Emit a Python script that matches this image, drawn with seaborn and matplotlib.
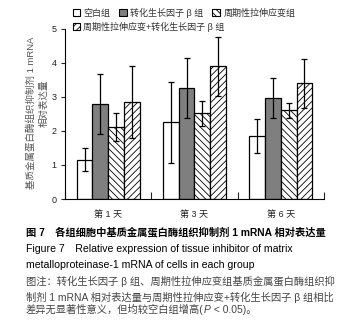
import numpy as np
import pandas as pd
import seaborn as sns
import matplotlib
matplotlib.use("Agg")
import matplotlib.pyplot as plt
from matplotlib.patches import Patch

days = ["第 1 天", "第 3 天", "第 6 天"]
groups = ["空白组", "转化生长因子 β 组", "周期性拉伸应变组", "周期性拉伸应变+转化生长因子 β 组"]
blank_mean = [1.15, 2.25, 1.85]
blank_sd = [0.34, 1.18, 0.50]
tgf_mean = [2.78, 3.25, 2.96]
tgf_sd = [0.88, 0.88, 0.58]
cyc_mean = [2.10, 2.51, 2.60]
cyc_sd = [0.41, 0.38, 0.22]
comb_mean = [2.84, 3.89, 3.40]
comb_sd = [1.05, 0.86, 0.72]
yticks = [0, 1, 2, 3, 4, 5]

means = [blank_mean, tgf_mean, cyc_mean, comb_mean]
sds = [blank_sd, tgf_sd, cyc_sd, comb_sd]
rows = []
for g, m, s in zip(groups, means, sds):
    for d, mv, sv in zip(days, m, s):
        rows.append({"day": d, "group": g, "mean": mv, "sd": sv})
df = pd.DataFrame(rows)

sns.set_style("ticks")
plt.rcParams['font.family'] = ['Liberation Sans', 'Noto Sans CJK SC']
plt.rcParams['hatch.linewidth'] = 0.6
plt.rcParams['axes.unicode_minus'] = False

facecolors = ["white", "#7f7f7f", "white", "white"]
hatches = [None, None, "\\\\\\\\\\", "/////"]

fig = plt.figure(figsize=(3.53, 3.23), dpi=100)
ax = fig.add_axes([0.1841, 0.3839, 0.7337, 0.5276])
sns.barplot(data=df, x="day", y="mean", hue="group", order=days, hue_order=groups,
            errorbar=None, width=0.73, palette=facecolors, edgecolor="black",
            linewidth=0.9, legend=False, ax=ax, saturation=1)

n = len(days)
for gi, g in enumerate(groups):
    for di in range(n):
        p = ax.patches[gi * n + di]
        p.set_facecolor(facecolors[gi])
        p.set_edgecolor("black")
        if hatches[gi]:
            p.set_hatch(hatches[gi])
        cx = p.get_x() + p.get_width() / 2
        ax.errorbar(cx, means[gi][di], yerr=sds[gi][di], color="black",
                    lw=0.9, capsize=2.2, capthick=0.9, zorder=5)

ax.set_ylim(0, 5)
ax.set_xlim(-0.5, 2.5)
ax.set_yticks(yticks)
ax.set_yticklabels([str(t) for t in yticks], fontsize=6.5, color="#222222")
ax.tick_params(axis="y", direction="out", length=3, width=0.8, pad=3)
ax.tick_params(axis="x", which="major", length=0, pad=8, labelsize=6.5, labelcolor="#222222")
ax.set_xticks([-0.5, 0.5, 1.5, 2.5], minor=True)
ax.tick_params(axis="x", which="minor", direction="in", length=5, width=0.8)
ax.set_xlabel("")
ax.set_ylabel("")
for s in ["top", "right"]:
    ax.spines[s].set_visible(False)
for s in ["left", "bottom"]:
    ax.spines[s].set_linewidth(0.8)
    ax.spines[s].set_color("black")

# y label (two lines)
fig.text(31 / 353, 1 - 113 / 323, "基质金属蛋白酶组织抑制剂 1 mRNA", rotation=90,
         ha="center", va="center", fontsize=6.8, color="#555555")
fig.text(44 / 353, 1 - 103 / 323, "相对表达量", rotation=90,
         ha="center", va="center", fontsize=6.8, color="#555555")

# legend
handles = [Patch(facecolor=facecolors[i], edgecolor="black", hatch=hatches[i], linewidth=0.8)
           for i in range(4)]
leg1 = fig.legend(handles[:3], groups[:3], loc="center left", bbox_to_anchor=(68 / 353, 1 - 13 / 323),
                  ncol=3, frameon=False, fontsize=6.5, handlelength=0.8, handleheight=0.8,
                  handletextpad=0.4, columnspacing=1.0, borderpad=0, labelcolor="#333333")
leg2 = fig.legend(handles[3:], groups[3:], loc="center left", bbox_to_anchor=(68 / 353, 1 - 27 / 323),
                  ncol=1, frameon=False, fontsize=6.5, handlelength=0.8, handleheight=0.8,
                  handletextpad=0.4, borderpad=0, labelcolor="#333333")

# caption
x0 = 26 / 353
fs = 7.6
fig.text(x0, 1 - 232 / 323, "图 7　各组细胞中基质金属蛋白酶组织抑制剂 1 mRNA 相对表达量",
         ha="left", va="center", fontsize=fs - 0.2, color="black", fontweight="bold")
fig.text(x0, 1 - 249 / 323, "Figure 7　Relative expression of tissue inhibitor of matrix",
         ha="left", va="center", fontsize=fs, color="black")
fig.text(x0, 1 - 265 / 323, "metalloproteinase-1 mRNA of cells in each group",
         ha="left", va="center", fontsize=fs, color="black")
fig.text(x0, 1 - 281 / 323, "图注：转化生长因子 β 组、周期性拉伸应变组基质金属蛋白酶组织抑",
         ha="left", va="center", fontsize=fs - 0.2, color="#444444")
fig.text(x0, 1 - 297 / 323, "制剂 1 mRNA 相对表达量与周期性拉伸应变+转化生长因子 β 组相比",
         ha="left", va="center", fontsize=fs - 0.2, color="#444444")
t1 = fig.text(x0, 1 - 313 / 323, "差异无显著性意义，但均较空白组增高(",
              ha="left", va="baseline", fontsize=fs - 0.2, color="#444444")
t2 = fig.text(0, 0, "P", fontsize=fs - 0.2, color="#444444", style="italic",
              ha="left", va="baseline")
t3 = fig.text(0, 0, " < 0.05)。", fontsize=fs - 0.2, color="#444444",
              ha="left", va="baseline")
fig.canvas.draw()
r = fig.canvas.get_renderer()
bb = t1.get_window_extent(r)
t2.set_position((bb.x1 / fig.bbox.width, t1.get_position()[1]))
bb2 = t2.get_window_extent(r)
t3.set_position((bb2.x1 / fig.bbox.width, t1.get_position()[1]))

fig.savefig("out.png", dpi=100)
